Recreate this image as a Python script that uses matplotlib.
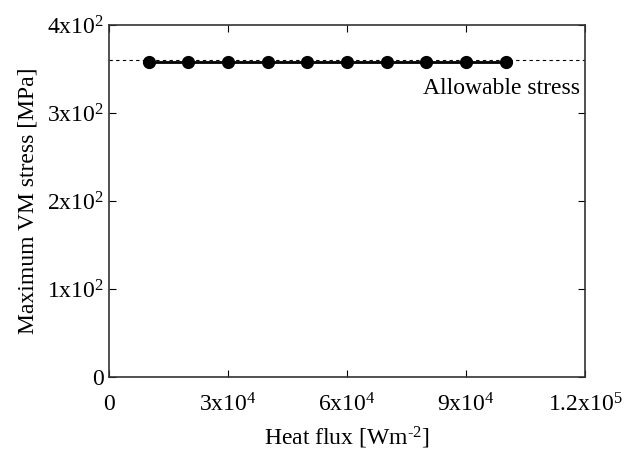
import matplotlib
matplotlib.use("Agg")
import matplotlib.pyplot as plt

plt.rcParams['font.family'] = 'Liberation Serif'
plt.rcParams['mathtext.fontset'] = 'custom'
plt.rcParams['mathtext.rm'] = 'Liberation Serif'
plt.rcParams['mathtext.it'] = 'Liberation Serif:italic'

# heat flux [W/m2] and maximum von Mises stress [MPa]
heat_flux = [1e4, 2e4, 3e4, 4e4, 5e4, 6e4, 7e4, 8e4, 9e4, 1e5]
max_stress = [358, 358, 358, 358, 358, 358, 358, 358, 358, 358]
allowable = 360

xticks = [0, 3e4, 6e4, 9e4, 1.2e5]
xticklabels = ['0', r'3x10$^{4}$', r'6x10$^{4}$', r'9x10$^{4}$', r'1.2x10$^{5}$']
yticks = [0, 100, 200, 300, 400]
yticklabels = ['0', r'1x10$^{2}$', r'2x10$^{2}$', r'3x10$^{2}$', r'4x10$^{2}$']

fig = plt.figure(figsize=(6.25, 4.57), dpi=100)
ax = fig.add_axes([109/625, 80/457, 476/625, 352/457])

ax.axhline(allowable, color='black', linestyle=(0, (3, 3)), linewidth=0.8)
ax.plot(heat_flux, max_stress, color='black', linewidth=2, marker='o', markersize=8.5)
ax.text(1.187e5, 328, 'Allowable stress', ha='right', va='center', fontsize=17)

ax.set_xlim(0, 1.2e5)
ax.set_ylim(0, 400)
ax.set_xticks(xticks)
ax.set_xticklabels(xticklabels)
ax.set_yticks(yticks)
ax.set_yticklabels(yticklabels)
ax.tick_params(direction='in', top=True, right=True, labelsize=17, length=5)
ax.tick_params(axis='x', pad=12)
ax.tick_params(axis='y', pad=4)
for s in ax.spines.values():
    s.set_linewidth(1.2)
    s.set_color('#333333')

ax.set_xlabel(r'Heat flux [Wm$^{\text{-}2}$]', fontsize=17, labelpad=6)
ax.set_ylabel('Maximum VM stress [MPa]', fontsize=17, labelpad=6)

fig.savefig('out.png', dpi=100)
